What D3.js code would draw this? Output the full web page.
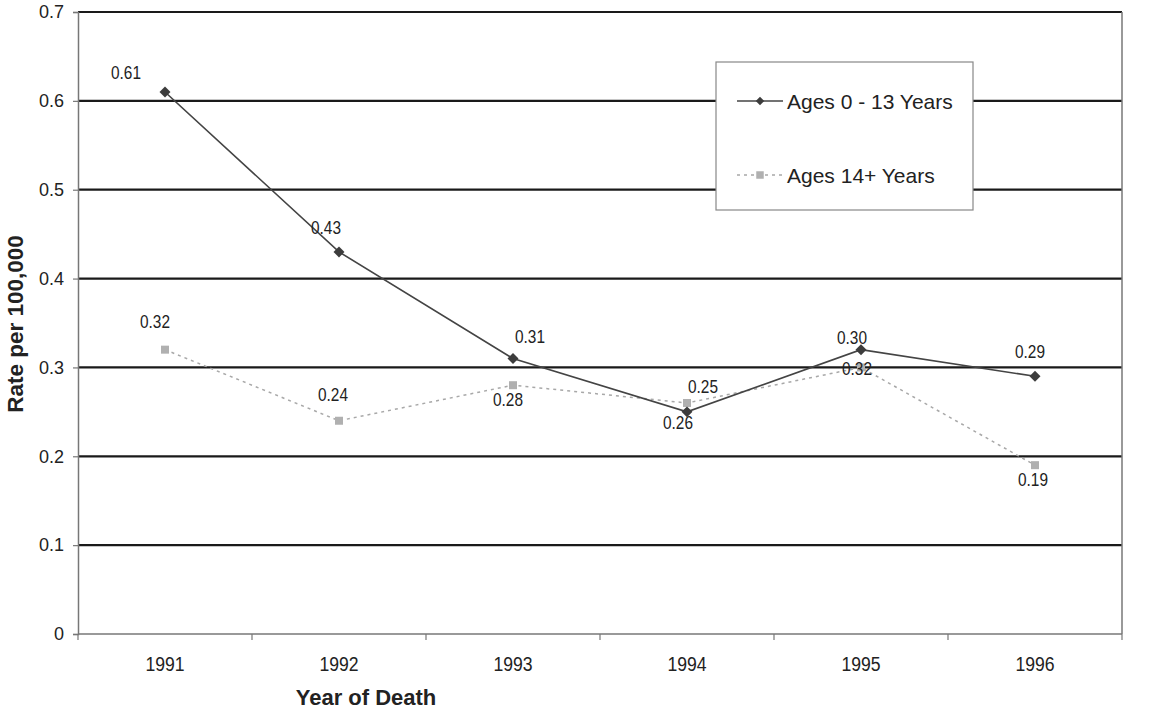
<!DOCTYPE html>
<html>
<head>
<meta charset="utf-8">
<script src="https://cdn.jsdelivr.net/npm/d3@7"></script>
<style>
  html, body { margin: 0; padding: 0; background: #fff; }
  svg { display: block; font-family: "Liberation Sans", Arial, sans-serif; }
</style>
</head>
<body>
<svg id="chart" width="1149" height="712"></svg>
<script>
// Years on the category axis
const years = ["1991", "1992", "1993", "1994", "1995", "1996"];
// Rate per 100,000 by age group
const youngRates = [0.61, 0.43, 0.31, 0.25, 0.32, 0.29];
const olderRates = [0.32, 0.24, 0.28, 0.26, 0.30, 0.19];
// Value axis ticks
const yTicks = [0, 0.1, 0.2, 0.3, 0.4, 0.5, 0.6, 0.7];
// Series names
const seriesNames = ["Ages 0 - 13 Years", "Ages 14+ Years"];
// Where each value label sits relative to its marker (px)
const youngLabelOffsets = [[-39, -19], [-13, -24], [17, -22], [16, -25], [-4, 19], [-5, -24]];
const olderLabelOffsets = [[-10, -28], [-6, -26], [-5, 15], [-9, 20], [-9, -29], [-2, 15]];

const svg = d3.select("#chart");
const plotLeft = 78, plotRight = 1122, plotTop = 12, plotBottom = 634;

const x = d3.scaleBand().domain(years).range([plotLeft, plotRight]).padding(0);
const y = d3.scaleLinear().domain([0, 0.7]).range([plotBottom, plotTop]);
const cx = d => x(d) + x.bandwidth() / 2;

// Horizontal gridlines
svg.append("g").selectAll("line")
  .data(yTicks.filter(v => v > 0))
  .join("line")
  .attr("x1", plotLeft).attr("x2", plotRight)
  .attr("y1", d => y(d)).attr("y2", d => y(d))
  .attr("stroke", "#1a1a1a").attr("stroke-width", 2.2);

// Right border
svg.append("line")
  .attr("x1", plotRight).attr("x2", plotRight).attr("y1", plotTop).attr("y2", plotBottom)
  .attr("stroke", "#777").attr("stroke-width", 1.5);

// Y axis
const yAxis = svg.append("g")
  .attr("transform", `translate(${plotLeft},0)`)
  .call(d3.axisLeft(y).tickValues(yTicks).tickSize(5).tickPadding(9)
    .tickFormat(d => d === 0 ? "0" : d3.format(".1f")(d)));
yAxis.select(".domain").attr("stroke", "#777").attr("stroke-width", 1.5);
yAxis.selectAll(".tick line").attr("stroke", "#777").attr("stroke-width", 1.2);
yAxis.selectAll(".tick text").attr("fill", "#222").attr("font-size", 18)
  .attr("font-family", "Liberation Sans, Arial, sans-serif");

// X axis: ticks at category boundaries
const xAxisG = svg.append("g").attr("transform", `translate(0,${plotBottom})`);
xAxisG.append("line").attr("x1", plotLeft).attr("x2", plotRight)
  .attr("stroke", "#777").attr("stroke-width", 1.5);
xAxisG.selectAll(".bound")
  .data(years.concat(["end"]))
  .join("line")
  .attr("class", "bound")
  .attr("x1", (d, i) => plotLeft + i * x.step())
  .attr("x2", (d, i) => plotLeft + i * x.step())
  .attr("y1", 0).attr("y2", 6)
  .attr("stroke", "#777").attr("stroke-width", 1.2);
xAxisG.selectAll(".lab")
  .data(years)
  .join("text")
  .attr("class", "lab")
  .attr("transform", d => `translate(${cx(d)},37) scale(0.84,1)`)
  .attr("text-anchor", "middle")
  .attr("font-size", 21).attr("fill", "#222")
  .text(d => d);

// Axis titles
svg.append("text")
  .attr("transform", `translate(366,705)`)
  .attr("text-anchor", "middle")
  .attr("font-size", 22).attr("font-weight", "bold").attr("fill", "#222")
  .text("Year of Death");
svg.append("text")
  .attr("transform", `translate(23,324) rotate(-90)`)
  .attr("text-anchor", "middle")
  .attr("font-size", 22.5).attr("font-weight", "bold").attr("fill", "#222")
  .text("Rate per 100,000");

// Series lines
const line = d3.line().x((d, i) => cx(years[i])).y(d => y(d));
svg.append("path").datum(olderRates)
  .attr("d", line).attr("fill", "none")
  .attr("stroke", "#a8a8a8").attr("stroke-width", 1.5)
  .attr("stroke-dasharray", "3,4");
svg.append("path").datum(youngRates)
  .attr("d", line).attr("fill", "none")
  .attr("stroke", "#444").attr("stroke-width", 1.6);

// Markers
svg.append("g").selectAll("path")
  .data(olderRates)
  .join("path")
  .attr("d", d3.symbol().type(d3.symbolSquare).size(64))
  .attr("transform", (d, i) => `translate(${cx(years[i])},${y(d)})`)
  .attr("fill", "#b0b0b0");
svg.append("g").selectAll("path")
  .data(youngRates)
  .join("path")
  .attr("d", d3.symbol().type(d3.symbolSquare).size(60))
  .attr("transform", (d, i) => `translate(${cx(years[i])},${y(d)}) rotate(45)`)
  .attr("fill", "#3c3c3c");

// Value labels
function valueLabels(values, offsets) {
  svg.append("g").selectAll("text")
    .data(values)
    .join("text")
    .attr("transform", (d, i) =>
      `translate(${cx(years[i]) + offsets[i][0]},${y(d) + offsets[i][1] + 6}) scale(0.88,1)`)
    .attr("text-anchor", "middle")
    .attr("font-size", 17.5).attr("fill", "#222")
    .text(d => d3.format(".2f")(d));
}
valueLabels(olderRates, olderLabelOffsets);
valueLabels(youngRates, youngLabelOffsets);

// Legend
const legend = svg.append("g");
legend.append("rect")
  .attr("x", 716).attr("y", 62).attr("width", 257).attr("height", 148)
  .attr("fill", "#fff").attr("stroke", "#888").attr("stroke-width", 1.2);
const legendRows = [
  { name: seriesNames[0], yPos: 101, color: "#444", dash: null, young: true },
  { name: seriesNames[1], yPos: 175, color: "#a8a8a8", dash: "3,4", young: false }
];
legendRows.forEach(r => {
  legend.append("line")
    .attr("x1", 737).attr("x2", 783).attr("y1", r.yPos).attr("y2", r.yPos)
    .attr("stroke", r.color).attr("stroke-width", 1.5)
    .attr("stroke-dasharray", r.dash);
  legend.append("path")
    .attr("d", d3.symbol().type(d3.symbolSquare).size(r.young ? 36 : 56))
    .attr("transform", `translate(760,${r.yPos})` + (r.young ? " rotate(45)" : ""))
    .attr("fill", r.young ? "#3c3c3c" : "#b0b0b0");
  legend.append("text")
    .attr("transform", `translate(787,${r.yPos + 8})`)
    .attr("font-size", 21).attr("fill", "#222")
    .text(r.name);
});
</script>
</body>
</html>
